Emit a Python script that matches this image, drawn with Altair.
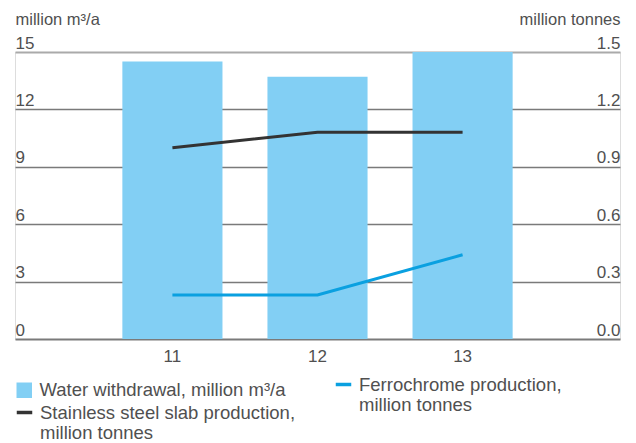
import altair as alt
import pandas as pd

# Years on the category axis
years = ["11", "12", "13"]
# Water withdrawal, million m3/a (left axis)
water = [14.5, 13.7, 15.0]
# Stainless steel slab production, million tonnes (right axis)
steel = [1.0, 1.08, 1.08]
# Ferrochrome production, million tonnes (right axis)
ferro = [0.23, 0.23, 0.44]

left_ticks = [0, 3, 6, 9, 12, 15]
right_ticks = [0.0, 0.3, 0.6, 0.9, 1.2, 1.5]

water_name = "Water withdrawal, million m³/a"
steel_name = "Stainless steel slab production, million tonnes"
ferro_name = "Ferrochrome production, million tonnes"

df = pd.DataFrame({
    "year": years,
    "water": water,
    "steel": steel,
    "ferro": ferro,
    "water_s": [water_name] * len(years),
    "steel_s": [steel_name] * len(years),
    "ferro_s": [ferro_name] * len(years),
})

FONT = "Liberation Sans"
TEXT = "#505050"

# Split a legend label after its first comma into two lines
two_lines = ("[slice(datum.label, 0, indexof(datum.label, ',') + 1), "
             "slice(datum.label, indexof(datum.label, ',') + 2)]")

x_enc = alt.X(
    "year:N",
    scale=alt.Scale(paddingInner=0.31, paddingOuter=0.74),
    axis=alt.Axis(title=None, labelAngle=0, ticks=False, domain=False,
                  labelPadding=9, labelFontSize=17, labelColor=TEXT,
                  labelFont=FONT, grid=False),
)

grid_color = {"condition": {"test": "datum.value === 15", "value": "#aaaaaa"},
              "value": "#7a7a7a"}
grid_width = {"condition": {"test": "datum.value === 15 || datum.value === 0", "value": 2.2},
              "value": 1.5}

left_axis = alt.Axis(
    title="million m³/a", titleAngle=0, titleX=0, titleY=-28, titleAlign="left",
    titleBaseline="alphabetic", titleFontSize=16.5, titleFontWeight="normal",
    titleColor=TEXT, titleFont=FONT,
    values=left_ticks, format="d", ticks=False, domain=False,
    labelAlign="left", labelBaseline="alphabetic", labelPadding=0, labelOffset=-4,
    labelFontSize=17, labelColor=TEXT, labelFont=FONT,
    grid=True, gridColor=grid_color, gridWidth=grid_width,
)

right_axis = alt.Axis(
    orient="right",
    title="million tonnes", titleAngle=0, titleX=0, titleY=-28, titleAlign="right",
    titleBaseline="alphabetic", titleFontSize=16.5, titleFontWeight="normal",
    titleColor=TEXT, titleFont=FONT,
    values=right_ticks, format=".1f", ticks=False, domain=False,
    labelAlign="right", labelBaseline="alphabetic", labelPadding=0, labelOffset=-4,
    labelFontSize=17, labelColor=TEXT, labelFont=FONT, grid=False,
)

legend_common = dict(
    orient="none", title=None, padding=0, labelFontSize=18.5, labelColor=TEXT,
    labelFont=FONT, labelOffset=6, labelLimit=400, symbolSize=240,
)

bars = alt.Chart(df).mark_bar().encode(
    x=x_enc,
    y=alt.Y("water:Q", scale=alt.Scale(domain=[0, 15], nice=False), axis=left_axis),
    color=alt.Color(
        "water_s:N",
        scale=alt.Scale(domain=[water_name], range=["#82cff4"]),
        legend=alt.Legend(legendX=0, legendY=329, symbolType="square",
                          symbolStrokeWidth=0, **legend_common),
    ),
)

y_right = dict(scale=alt.Scale(domain=[0, 1.5], nice=False), axis=right_axis)

steel_line = alt.Chart(df).mark_line(strokeWidth=3).encode(
    x=x_enc,
    y=alt.Y("steel:Q", **y_right),
    color=alt.Color(
        "steel_s:N",
        scale=alt.Scale(domain=[steel_name], range=["#333333"]),
        legend=alt.Legend(legendX=0, legendY=351, symbolType="stroke",
                          symbolStrokeWidth=3.5, labelExpr=two_lines,
                          **legend_common),
    ),
)

ferro_line = alt.Chart(df).mark_line(strokeWidth=3).encode(
    x=x_enc,
    y=alt.Y("ferro:Q", **y_right),
    color=alt.Color(
        "ferro_s:N",
        scale=alt.Scale(domain=[ferro_name], range=["#0aa0e0"]),
        legend=alt.Legend(legendX=319, legendY=323, symbolType="stroke",
                          symbolStrokeWidth=3.5, labelExpr=two_lines,
                          **legend_common),
    ),
)

lines = alt.layer(steel_line, ferro_line).resolve_scale(color="independent")

chart = (
    alt.layer(bars, lines)
    .resolve_scale(y="independent", color="independent")
    .properties(
        width=605,
        height=287,
        autosize=alt.AutoSizeParams(type="none"),
        padding={"left": 15, "top": 52, "right": 16, "bottom": 104},
    )
    .configure_view(stroke=None)
    .configure(background="white")
)

chart.save("out.html", embed_options={"renderer": "svg", "actions": False})
